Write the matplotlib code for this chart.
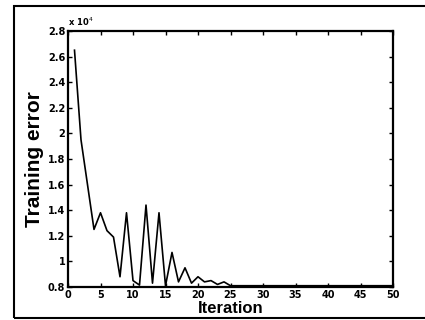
import matplotlib
matplotlib.use("Agg")
import matplotlib.pyplot as plt
from matplotlib.patches import Rectangle

iterations = list(range(1, 51))
training_error = [2.65, 1.95, 1.60, 1.25, 1.38, 1.24, 1.19, 0.88, 1.38, 0.85,
                  0.815, 1.44, 0.83, 1.38, 0.81, 1.07, 0.84, 0.95, 0.83, 0.88,
                  0.84, 0.85, 0.82, 0.84, 0.81] + [0.81] * 25
x_ticks = [0, 5, 10, 15, 20, 25, 30, 35, 40, 45, 50]
y_ticks = [0.8, 1.0, 1.2, 1.4, 1.6, 1.8, 2.0, 2.2, 2.4, 2.6, 2.8]
y_tick_labels = ["0.8", "1", "1.2", "1.4", "1.6", "1.8", "2", "2.2", "2.4", "2.6", "2.8"]

fig = plt.figure(figsize=(4.25, 3.2), dpi=100)
fig.patch.set_facecolor("white")
ax = fig.add_axes([68/425, 1-287/320, (393-68)/425, (287-31)/320])

ax.plot(iterations, training_error, color="black", linewidth=1.2)
ax.set_xlim(0, 50)
ax.set_ylim(0.8, 2.8)
ax.set_xticks(x_ticks)
ax.set_yticks(y_ticks)
ax.set_yticklabels(y_tick_labels)
ax.tick_params(direction="in", top=True, right=True, length=3, width=1,
               labelsize=7, pad=2)
for lab in ax.get_xticklabels() + ax.get_yticklabels():
    lab.set_fontweight("bold")
for sp in ax.spines.values():
    sp.set_linewidth(1.6)

ax.set_xlabel("Iteration", fontsize=12, fontweight="bold", family="Liberation Sans", labelpad=1)
ax.set_ylabel("Training error", fontsize=15, fontweight="bold", family="Liberation Sans", labelpad=3)
ax.text(0.0, 1.01, r"x 10$^4$", transform=ax.transAxes, fontsize=6, fontweight="bold",
        ha="left", va="bottom")

fig.patches.append(Rectangle((14/425, 1-318/320), 1.0, (318-6)/320, transform=fig.transFigure,
                             fill=False, edgecolor="black", linewidth=1.5, clip_on=False))

fig.savefig("out.png", dpi=100)
